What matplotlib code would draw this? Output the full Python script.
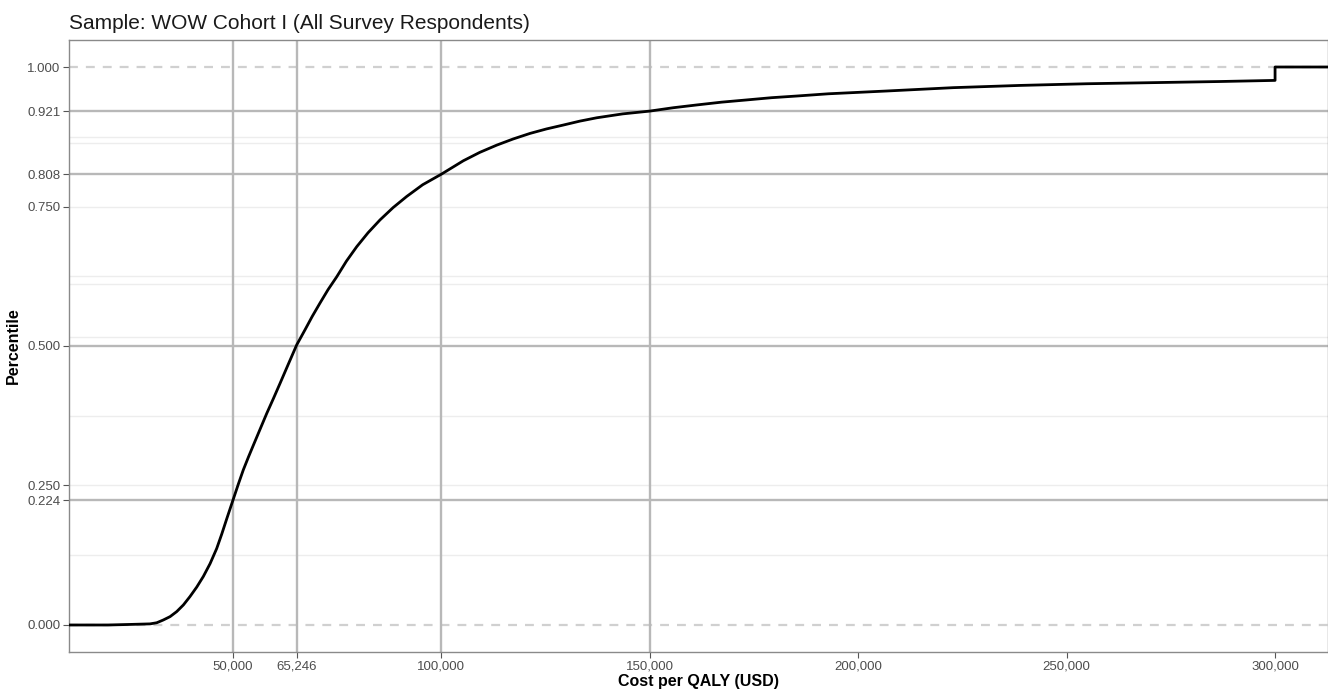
import matplotlib
matplotlib.use("Agg")
import matplotlib.pyplot as plt
from matplotlib.ticker import FuncFormatter

plt.rcParams['font.family'] = ['Liberation Sans', 'DejaVu Sans']

# cumulative distribution
cost = [10650, 20000, 25310, 30090, 31700, 33280, 34900, 36490, 38100, 39680,
        41300, 42880, 44500, 46080, 47300, 48480, 50000, 51300, 52470, 53700,
        54870, 56500, 58080, 59700, 61280, 63300, 65280, 67270, 69000, 70870,
        72800, 74880, 77200, 79680, 82400, 85270, 88400, 91670, 95500, 100000,
        105260, 109200, 113270, 117200, 121260, 125200, 129250, 133200, 137260,
        143500, 150000, 155600, 161260, 167200, 173250, 179200, 185250, 192830,
        206830, 222820, 238820, 254820, 270820, 286810, 300000, 300000, 312700]
pct = [0.0, 0.0, 0.001, 0.002, 0.004, 0.009, 0.015, 0.024, 0.036, 0.051,
       0.068, 0.087, 0.110, 0.137, 0.163, 0.190, 0.224, 0.253, 0.278, 0.301,
       0.322, 0.351, 0.379, 0.406, 0.433, 0.468, 0.502, 0.529, 0.553, 0.577,
       0.601, 0.624, 0.652, 0.678, 0.703, 0.726, 0.748, 0.768, 0.789, 0.808,
       0.832, 0.847, 0.860, 0.871, 0.881, 0.889, 0.896, 0.903, 0.909,
       0.916, 0.921, 0.927, 0.932, 0.937, 0.941, 0.945, 0.948, 0.952,
       0.957, 0.963, 0.967, 0.970, 0.972, 0.974, 0.976, 1.0, 1.0]

x_ticks = [50000, 65246, 100000, 150000, 200000, 250000, 300000]
y_ticks = [0.0, 0.224, 0.25, 0.5, 0.75, 0.808, 0.921, 1.0]
ref_x = [50000, 65246, 100000, 150000]
ref_y = [0.224, 0.5, 0.808, 0.921]
faint_y = [0.125, 0.25, 0.375, 0.517, 0.612, 0.625, 0.75, 0.8645, 0.875]

fig = plt.figure(figsize=(13.28, 6.96), dpi=100)
ax = fig.add_axes([69 / 1328, 44 / 696, 1 - 69 / 1328, 612 / 696])

for v in faint_y:
    ax.axhline(v, color='#ededed', lw=1.0, zorder=1)
for v in [0.0, 1.0]:
    ax.axhline(v, color='#d0d0d0', lw=1.6, ls=(0, (4.0, 3.6)), zorder=2)
for v in ref_y:
    ax.axhline(v, color='#b8b8b8', lw=1.7, zorder=2)
for v in ref_x:
    ax.axvline(v, color='#b8b8b8', lw=1.7, zorder=2)

ax.plot(cost, pct, color='black', lw=2.0, zorder=3, solid_joinstyle='round')

ax.set_xlim(10650, 312700)
ax.set_ylim(-0.0484, 1.0484)
ax.set_xticks(x_ticks)
ax.xaxis.set_major_formatter(FuncFormatter(lambda v, p: f"{v:,.0f}"))
ax.set_yticks(y_ticks)
ax.yaxis.set_major_formatter(FuncFormatter(lambda v, p: f"{v:.3f}"))
ax.tick_params(length=4, width=0.8, color='#555555', labelcolor='#4d4d4d',
               labelsize=9.5, pad=2)

for s in ax.spines.values():
    s.set_color('#8a8a8a')
    s.set_linewidth(1.0)

ax.set_xlabel('Cost per QALY (USD)', fontsize=11.5, fontweight='bold', labelpad=1)
ax.set_ylabel('Percentile', fontsize=11.5, fontweight='bold', labelpad=5)
ax.set_title('Sample: WOW Cohort I (All Survey Respondents)', loc='left',
             fontsize=15, pad=8, color='#1a1a1a')

fig.savefig('out.png', dpi=100)
